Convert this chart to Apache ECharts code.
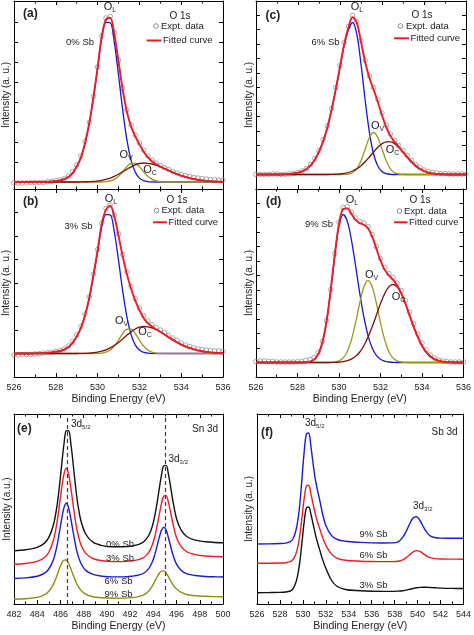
<!DOCTYPE html>
<html><head><meta charset="utf-8">
<script src="https://cdn.jsdelivr.net/npm/echarts@6/dist/echarts.min.js"></script>
<style>html,body{margin:0;padding:0;background:#fff}#c{width:474px;height:635px}</style>
</head><body><div id="c"></div>
<script>
// ---------- O 1s panels (a)-(d): binding energy grid (eV) ----------
const energyO1s = [526.0,526.2,526.4,526.6,526.8,527.0,527.2,527.4,527.6,527.8,
 528.0,528.2,528.4,528.6,528.8,529.0,529.2,529.4,529.6,529.8,
 530.0,530.2,530.4,530.6,530.8,531.0,531.2,531.4,531.6,531.8,
 532.0,532.2,532.4,532.6,532.8,533.0,533.2,533.4,533.6,533.8,
 534.0,534.2,534.4,534.6,534.8,535.0,535.2,535.4,535.6,535.8,536.0];

// (a) 0% Sb
const a_expt = [-1,-1,-1,-1,-0.5,-0.5,-0.5,-0.5,0.3,0.6, 1.2,2,3.5,6,10.5,17,26,40.5,59.5,85.5,
 115,146,164,165.5,149,122,94,72,57,47, 39,32,26,22,19,16.5,14.5,12.5,10.5,9,
 7.5,6.5,5.5,4.5,4,3.5,3,2.5,2.5,2, 2];
const a_fit = [0,0,0,0,0,0,0,0,0.3,0.5, 1.0,1.6,2.8,4.9,8.9,15.4,24.4,39.1,58.6,84.7,
 114.4,145.8,162.5,164.3,147.9,120.7,92.5,70.4,55.6,45.6, 37.6,30.6,24.8,20.7,17.8,15.5,13.4,11.5,9.6,7.9,
 6.3,5.0,3.9,3.0,2.2,1.6,1.1,0.8,0.5,0.3, 0.2];
const a_OL = [0,0,0,0,0,0,0,0,0.3,0.5, 1.0,1.6,2.8,4.9,8.9,15.4,24.3,38.9,58.3,84.2,
 113.4,144.2,159.6,159.4,139.6,107.2,72.1,42.4,21.9,9.9, 3.9,1.4,0.4,0.1,0,0,0,0,0,0,
 0,0,0,0,0,0,0,0,0,0, 0];
const a_OV = [0,0,0,0,0,0,0,0,0,0, 0,0,0,0,0,0,0,0,0,0,
 0,0,0.3,1.0,2.6,5.7,10.2,15.2,18.5,18.5, 15.2,10.2,5.7,2.6,1.0,0.3,0,0,0,0,
 0,0,0,0,0,0,0,0,0,0, 0];
const a_OC = [0,0,0,0,0,0,0,0,0,0, 0,0,0,0,0,0,0.1,0.2,0.3,0.5,
 1.0,1.6,2.6,3.9,5.7,7.8,10.2,12.8,15.2,17.2, 18.5,19.0,18.7,18.0,16.8,15.2,13.4,11.5,9.6,7.9,
 6.3,5.0,3.9,3.0,2.2,1.6,1.1,0.8,0.5,0.3, 0.2];

// (b) 3% Sb
const b_expt = [-1.5,-1.5,-1,-1,-1,-0.4,-0.2,0.4,0.7,1.2, 2,3,4.5,7.5,12,18.5,27,39.5,56.5,79.5,
 104,130.5,145,148.5,138.5,119.5,99,81.5,67,55, 45.5,38,32.5,29,26,23.5,21,18,15.5,13,
 10.5,8.5,7,5.5,4.5,4,3.5,3,2.5,2.5, 2];
const b_fit = [0,0,0,0,0,0.1,0.3,0.4,0.7,1.1, 1.7,2.5,3.9,6.3,10.6,16.9,25.5,38.3,55.4,78.4,
 103.0,129.6,143.8,147.7,137.0,117.9,97.3,79.5,65.0,53.1, 43.3,35.6,30.4,27.0,24.3,21.7,19.0,16.3,13.6,11.2,
 8.9,7.1,5.5,4.3,3.1,2.3,1.6,1.1,0.7,0.4, 0.3];
const b_OL = [0,0,0,0,0,0.1,0.3,0.4,0.7,1.1, 1.7,2.5,3.9,6.3,10.6,16.9,25.4,38.1,55.0,77.6,
 101.5,126.9,138.9,138.7,121.5,93.3,62.7,36.9,19.0,8.6, 3.4,1.1,0.4,0.1,0,0,0,0,0,0,
 0,0,0,0,0,0,0,0,0,0, 0];
const b_OV = [0,0,0,0,0,0,0,0,0,0, 0,0,0,0,0,0,0,0,0,0,
 0.1,0.4,1.3,3.4,7.5,13.5,20,24.4,24.4,20, 13.5,7.5,3.4,1.3,0.4,0.1,0,0,0,0,
 0,0,0,0,0,0,0,0,0,0, 0];
const b_OC = [0,0,0,0,0,0,0,0,0,0, 0,0,0,0,0,0,0.1,0.2,0.4,0.8,
 1.4,2.3,3.6,5.6,8.0,11.1,14.6,18.2,21.6,24.5, 26.4,27.0,26.6,25.6,23.9,21.6,19.0,16.3,13.6,11.2,
 8.9,7.1,5.5,4.3,3.1,2.3,1.6,1.1,0.7,0.4, 0.3];

// (c) 6% Sb
const c_expt = [0,0,0,0,0.5,0.5,0,0.3,0.6,1.2, 2,3.5,6,10,16,24,35,48.5,66,87,
 109,132,148,159,153,134,114,98.5,87,75, 61.5,49.5,40.5,34,29,24,19,14,10,7,
 4.5,3,2,1.5,1,1,0.5,0.5,0.5,0.5, 0.5];
const c_fit = [0,0,0,0,0,0,0,0.3,0.6,1.1, 1.8,3.2,5.5,9.1,14.7,22.8,33.4,47.1,64.7,85.4,
 107.7,130.4,146.9,157.3,151.7,132.8,112.3,96.7,85.0,72.7, 59.3,47.3,38.6,32.6,27.7,22.6,17.5,12.8,8.8,5.7,
 3.5,2.0,1.1,0.5,0.3,0.1,0,0,0,0, 0];
const c_OL = [0,0,0,0,0,0,0,0.3,0.6,1.1, 1.8,3.2,5.5,9.1,14.7,22.8,33.4,47.1,64.6,85.1,
 107.2,129.2,144.4,152,140.3,110.3,74.0,42.2,20.5,8.5, 3.0,0.9,0.2,0,0,0,0,0,0,0,
 0,0,0,0,0,0,0,0,0,0, 0];
const c_OV = [0,0,0,0,0,0,0,0,0,0, 0,0,0,0,0,0,0,0,0,0,
 0,0.1,0.5,1.8,5.7,13.7,25.5,37.0,42,37.0, 25.5,13.7,5.7,1.8,0.5,0.1,0,0,0,0,
 0,0,0,0,0,0,0,0,0,0, 0];
const c_OC = [0,0,0,0,0,0,0,0,0,0, 0,0,0,0,0,0,0,0,0.1,0.3,
 0.5,1.1,2.0,3.5,5.7,8.8,12.8,17.5,22.5,27.2, 30.8,32.7,32.7,30.8,27.2,22.5,17.5,12.8,8.8,5.7,
 3.5,2.0,1.1,0.5,0.3,0.1,0,0,0,0, 0];

// (d) 9% Sb
const d_expt = [1,1.5,1.5,1,1,0.5,0.5,0.5,0.5,0.5, 0.8,1.2,2,3,5,10,21,42,73,109,
 140,155,156,150.5,144.5,141,139.5,136,128,116, 104,95,89,85,79.5,72,62,50.5,39,28.5,
 19.5,12.5,7.5,4.5,2.5,1.5,1,0.5,0.5,0.5, 0.5];
const d_fit = [0,0,0,0,0,0,0,0,0,0, 0,0,0.2,0.9,2.9,8.3,20.0,41.1,72.2,108.1,
 138.6,153.5,154.1,148.6,142.7,139.4,137.8,134.3,125.9,113.9, 102.0,92.9,87.2,82.8,77.2,69.3,59.0,47.3,35.7,25.4,
 16.8,10.5,6.2,3.4,1.8,0.9,0.4,0.2,0,0, 0];
const d_OL = [0,0,0,0,0,0,0,0,0,0, 0,0,0.2,0.9,2.9,8.3,20.0,41.1,72.1,107.4,
 136.6,148,141.2,122.4,96.6,69.4,45.3,26.9,14.5,7.1, 3.2,1.3,0.5,0.2,0,0,0,0,0,0,
 0,0,0,0,0,0,0,0,0,0, 0];
const d_OV = [0,0,0,0,0,0,0,0,0,0, 0,0,0,0,0,0,0,0,0.1,0.5,
 1.6,4.6,11.1,22.8,39.9,59.5,75.7,82,75.7,59.5, 39.9,22.8,11.1,4.6,1.6,0.5,0.1,0,0,0,
 0,0,0,0,0,0,0,0,0,0, 0];
const d_OC = [0,0,0,0,0,0,0,0,0,0, 0,0,0,0,0,0,0,0,0,0.2,
 0.4,0.9,1.8,3.4,6.2,10.5,16.8,25.4,35.7,47.3, 58.9,68.8,75.6,78,75.6,68.8,58.9,47.3,35.7,25.4,
 16.8,10.5,6.2,3.4,1.8,0.9,0.4,0.2,0,0, 0];

// ---------- (e) Sn 3d ----------
const energySn = [482.0,483.0,484.0,484.6,485.0,485.4,485.7,485.9,486.1,486.3,
 486.5,486.7,486.9,487.1,487.3,487.5,487.8,488.2,488.8,489.6,
 490.5,491.4,492.2,492.8,493.2,493.6,493.9,494.1,494.3,494.5,
 494.7,494.9,495.1,495.3,495.5,495.7,496.0,496.4,496.9,497.6,
 498.5,499.3,500.0];
const sn0 = [53.3,54.3,56.7,60.6,66.6,79.3,97.9,116.4,138.6,159.5, 173.2,173.3,160.0,139.5,117.7,99.6,81.5,69.5,61.8,58.4,
 57.2,57.2,58.0,59.8,62.5,68.5,77.3,86.7,99.4,114.5, 128.8,138.3,138.6,129.9,116.4,102.0,85.3,73.8,67.2,63.9, 62.2,61.5,61.3];
const sn3 = [39.7,40.5,42.6,46.2,51.8,64.0,81.4,97.9,115.3,129.8, 135.7,130.0,115.7,98.7,82.4,70.1,58.3,50.4,45.5,43.2,
 42.4,42.4,43.2,44.6,46.8,51.7,58.7,66.4,76.7,88.9, 100.4,108.0,108.4,101.6,90.9,79.5,66.3,57.3,52.0,49.4, 48.0,47.5,47.3];
const sn6 = [25.5,26.1,27.8,30.6,35.0,44.5,58.2,71.1,84.7,96.1, 100.8,96.3,85.0,71.5,58.8,49.1,39.7,33.4,29.6,27.7,
 27.1,27.1,27.9,29.1,31.0,35.4,41.7,48.4,57.0,66.1, 73.7,76.8,73.9,66.3,57.3,48.8,39.8,33.6,30.2,28.5, 27.5,27.2,27.0];
const sn9 = [4.7,5.3,6.6,9.1,12.8,19.9,28.4,34.9,40.6,43.9, 44.0,40.7,35.1,28.7,22.9,18.1,13.3,9.7,7.3,6.2,
 5.8,5.9,6.4,7.6,9.4,13.1,17.8,22.0,26.5,30.5, 32.9,33.1,31.0,27.3,23.0,19.2,14.9,11.7,9.5,8.3, 7.7,7.4,7.3];
const snPeakLines = [486.6, 495.05];

// ---------- (f) Sb 3d ----------
const energySb = [526.0,527.0,528.0,528.5,528.9,529.1,529.3,529.5,529.7,529.9,
 530.1,530.3,530.5,530.7,530.9,531.1,531.3,531.5,531.7,532.0,
 532.5,533.0,533.7,535.0,536.0,537.0,537.8,538.3,538.7,539.0,
 539.3,539.6,539.9,540.2,540.5,540.8,541.1,541.5,542.0,543.0,544.0];
const sb9 = [60.0,60.1,60.5,60.9,62.3,64.5,69.7,79.3,96.3,122.4, 150.6,169.8,171.0,157.5,139.4,123.7,112.4,102.2,91.0,78.6,
 68.4,64.5,62.8,61.6,61.1,61.0,61.1,62.2,66.6,72.5, 79.9,85.9,87.3,83.5,77.3,71.6,68.2,66.5,65.9,65.8,65.7];
const sb6 = [40.7,40.8,41.0,41.3,42.3,44.0,47.6,54.4,66.4,84.6, 104.4,117.9,118.8,110.2,99.3,89.1,81.2,74.2,67.2,58.6,
 49.9,45.6,43.7,42.8,42.5,42.4,42.4,42.7,44.1,46.3, 49.2,52.0,53.4,52.6,50.3,47.9,46.3,45.4,45.0,44.9,44.8];
const sb3 = [11.3,11.4,11.6,12.0,13.0,14.8,18.8,26.2,39.3,59.2, 80.9,95.7,97.0,89.8,79.5,69.1,60.5,52.9,45.1,35.7,
 23.5,17.5,14.5,13.2,12.7,12.6,12.65,12.9,13.2,13.9, 14.7,15.5,16.2,16.6,16.8,16.7,16.5,16.3,15.9,15.6,15.5];

// ---------- layout / style ----------
const FONT = '"Liberation Sans", Arial, Helvetica, sans-serif';
const TXT = '#222';
const C_FIT = '#ee1c24', C_OL = '#1717d6', C_OV = '#9c9a1c', C_OC = '#7e0d0d';
const zip = (xs, ys) => xs.map((x, i) => [x, ys[i]]);

const panels = [
 {grid:{left:14, top:1, width:209, height:188}, x:[526,536], y:[-7,181], yTicks:[0,20,40,60,80,100,120,140,160], xLab:false, yGap:3},
 {grid:{left:14, top:189, width:209, height:188}, x:[526,536], y:[-23.5,164.5], yTicks:[0,23.5,47,70.5,94,117.5,141], xLab:true, yGap:3},
 {grid:{left:256, top:1, width:210, height:188}, x:[526,536], y:[-14.5,173.5], yTicks:[0,14.5,29,43.5,58,72.5,87,101.5,116,130.5,145,159.5], xLab:false, yGap:2},
 {grid:{left:256, top:189, width:210, height:188}, x:[526,536], y:[-14.5,173.5], yTicks:[0,14.5,29,43.5,58,72.5,87,101.5,116,130.5,145,159.5], xLab:true, yGap:2},
 {grid:{left:14, top:414, width:209, height:190}, x:[482,500], y:[0,190], yTicks:null, xLab:true, yGap:2, yName:'Intensity (a.u.)'},
 {grid:{left:257, top:414, width:209, height:190}, x:[526,544], y:[0,190], yTicks:null, xLab:true, yGap:3}
];

const grids = [], xAxes = [], yAxes = [], series = [];
panels.forEach((p, i) => {
  grids.push(Object.assign({containLabel:false}, p.grid));
  const xb = {gridIndex:i, type:'value', min:p.x[0], max:p.x[1], interval:2, splitLine:{show:false},
    axisLine:{show:true, onZero:false, lineStyle:{color:'#000', width:1}},
    axisTick:{show:true, inside:true, length:4, lineStyle:{color:'#000', width:1}},
    minorTick:{show:true, splitNumber:2, length:2.5, lineStyle:{color:'#000', width:1}}};
  xAxes.push(Object.assign({}, xb, {position:'bottom',
    axisLabel:{show:p.xLab, fontSize:9, color:TXT, fontFamily:FONT, margin:6},
    name:p.xLab ? 'Binding Energy (eV)' : '', nameLocation:'middle', nameGap:17,
    nameTextStyle:{fontSize:10.5, color:TXT, fontFamily:FONT}}));
  xAxes.push(Object.assign({}, xb, {position:'top', axisLabel:{show:false}}));
  const yb = {gridIndex:i, type:'value', min:p.y[0], max:p.y[1], splitLine:{show:false},
    axisLine:{show:true, onZero:false, lineStyle:{color:'#000', width:1}}, axisLabel:{show:false},
    axisTick: p.yTicks ? {show:true, inside:true, length:4, customValues:p.yTicks, lineStyle:{color:'#000', width:1}} : {show:false}};
  yAxes.push(Object.assign({}, yb, {position:'left', name:p.yName || 'Intensity (a. u.)', nameLocation:'middle',
    nameGap:p.yGap, nameRotate:90, nameTextStyle:{fontSize:10, color:TXT, fontFamily:FONT}}));
  yAxes.push(Object.assign({}, yb, {position:'right'}));
});

function line(i, xs, ys, color, width, extra) {
  series.push(Object.assign({type:'line', xAxisIndex:2*i, yAxisIndex:2*i, data:zip(xs, ys), showSymbol:false,
    smooth:0.35, silent:true, lineStyle:{color:color, width:width}, itemStyle:{color:color}}, extra || {}));
}
function expt(i, ys) {
  series.push({type:'scatter', xAxisIndex:2*i, yAxisIndex:2*i, data:zip(energyO1s, ys), symbol:'circle', symbolSize:4.6,
    silent:true, itemStyle:{color:'rgba(255,255,255,0)', borderColor:'#8c8c8c', borderWidth:0.9}});
}
const o1s = [[a_expt,a_fit,a_OL,a_OV,a_OC],[b_expt,b_fit,b_OL,b_OV,b_OC],[c_expt,c_fit,c_OL,c_OV,c_OC],[d_expt,d_fit,d_OL,d_OV,d_OC]];
o1s.forEach((s, i) => {
  expt(i, s[0]);
  line(i, energyO1s, s[2], C_OL, 1.3);
  line(i, energyO1s, s[3], C_OV, 1.3);
  line(i, energyO1s, s[4], C_OC, 1.3);
  line(i, energyO1s, s[1], C_FIT, 1.9);
});
line(4, energySn, sn9, '#8f8d12', 1.4);
line(4, energySn, sn6, '#1a1ad8', 1.4);
line(4, energySn, sn3, '#ee1c24', 1.4);
line(4, energySn, sn0, '#111', 1.4, {markLine:{silent:true, symbol:'none', label:{show:false},
  lineStyle:{type:[4,3], color:'#8b1c1c', width:1.2}, data:snPeakLines.map(v => ({xAxis:v}))}});
line(5, energySb, sb3, '#111', 1.4);
line(5, energySb, sb6, '#ee1c24', 1.4);
line(5, energySb, sb9, '#1a1ad8', 1.4);

// ---------- annotations ----------
const G = [];
function txt(x, y, text, size, align, weight) {
  G.push({type:'text', x:x, y:y, silent:true, z:100, style:{text:text, fontSize:size, fontFamily:FONT, fontWeight:weight || 'normal',
    fill:TXT, align:align || 'center', verticalAlign:'middle'}});
}
function sub(x, y, main, s, size, align) {
  G.push({type:'text', x:x, y:y, silent:true, z:100, style:{text:'{m|' + main + '}{s|' + s + '}', align:align || 'center', verticalAlign:'middle',
    rich:{m:{fontSize:size, fontFamily:FONT, fill:TXT}, s:{fontSize:Math.round(size*0.62), fontFamily:FONT, fill:TXT, padding:[Math.round(size*0.6),0,0,0]}}}});
}
function legend(o, cx, cy, lx1, lx2, ly, tx1, tx2) {
  txt(o[0], o[1], 'O 1s', 10);
  G.push({type:'circle', silent:true, z:100, shape:{cx:cx, cy:cy, r:2.3}, style:{fill:'none', stroke:'#8c8c8c', lineWidth:1}});
  txt(tx1, cy, 'Expt. data', 9.5, 'left');
  G.push({type:'line', silent:true, z:100, shape:{x1:lx1, y1:ly, x2:lx2, y2:ly}, style:{stroke:C_FIT, lineWidth:2}});
  txt(tx2, ly, 'Fitted curve', 9.5, 'left');
}
// (a)
txt(23, 14, '(a)', 12, 'left', 'bold');
legend([180,16], 156, 26, 146.5, 161.5, 40.5, 161, 163);
sub(110, 7, 'O', 'L', 11); txt(80, 42.5, '0% Sb', 9.5);
sub(126, 155, 'O', 'V', 11); sub(150, 169.5, 'O', 'C', 11);
// (b)
txt(23, 201.5, '(b)', 12, 'left', 'bold');
legend([177,200], 156.5, 210.5, 153, 167, 222.3, 161.5, 168.5);
sub(111, 199, 'O', 'L', 11); txt(78.5, 226.5, '3% Sb', 9.5);
sub(121.5, 321, 'O', 'V', 11); sub(145, 332, 'O', 'C', 11);
// (c)
txt(265.5, 15.5, '(c)', 12, 'left', 'bold');
legend([422,15], 400.5, 26, 394, 409, 38.3, 406, 410.5);
sub(357, 7, 'O', 'L', 11); txt(325.5, 42.5, '6% Sb', 9.5);
sub(377.5, 126, 'O', 'V', 11); sub(392.5, 150, 'O', 'C', 11);
// (d)
txt(266, 201.5, '(d)', 12, 'left', 'bold');
legend([420,200], 399.5, 211, 394, 407.5, 222.3, 404, 409);
sub(352, 200, 'O', 'L', 11); txt(319, 224.5, '9% Sb', 9.5);
sub(371.5, 275, 'O', 'V', 11); sub(398.5, 297, 'O', 'C', 11);
// (e)
txt(17, 429, '(e)', 12, 'left', 'bold');
sub(71, 424, '3d', '5/2', 10, 'left'); sub(168.5, 459, '3d', '3/2', 10, 'left');
txt(192, 429.5, 'Sn 3d', 10, 'left');
txt(120, 544, '0% Sb', 9.5); txt(120, 558, '3% Sb', 9.5); txt(118.5, 581, '6% Sb', 9.5); txt(118.5, 594, '9% Sb', 9.5);
// (f)
txt(261, 432.5, '(f)', 12, 'left', 'bold');
sub(305, 423.5, '3d', '5/2', 10, 'left'); sub(413, 506.5, '3d', '3/2', 10, 'left');
txt(431.5, 432.5, 'Sb 3d', 10, 'left');
txt(373.5, 534, '9% Sb', 9.5); txt(373.5, 555.5, '6% Sb', 9.5); txt(373.5, 585.5, '3% Sb', 9.5);

const chart = echarts.init(document.getElementById('c'), null, {renderer:'canvas', width:474, height:635});
chart.setOption({animation:false, backgroundColor:'#fff', textStyle:{fontFamily:FONT},
  grid:grids, xAxis:xAxes, yAxis:yAxes, series:series, graphic:G});
</script></body></html>
